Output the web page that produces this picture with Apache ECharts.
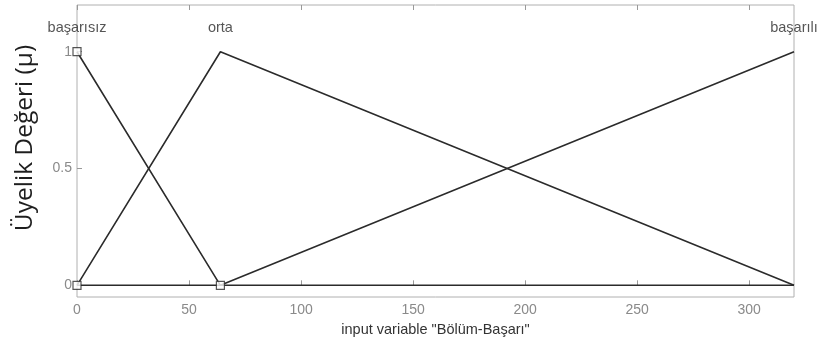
<!DOCTYPE html>
<html>
<head>
<meta charset="utf-8">
<script src="https://cdn.jsdelivr.net/npm/echarts@6/dist/echarts.min.js"></script>
<style>html,body{margin:0;padding:0;background:#fff}#c{width:819px;height:345px}</style>
</head>
<body>
<div id="c"></div>
<script>
// Membership functions (x, μ)
const basarisiz = [[0, 1], [64, 0], [320, 0]];
const orta = [[0, 0], [64, 1], [320, 0]];
const basarili = [[0, 0], [64, 0], [320, 1]];
const mfNames = ['başarısız', 'orta', 'başarılı'];
const mfPeaks = [0, 64, 320];
const markerPoints = [[0, 1], [0, 0], [64, 0]];
const xTicks = [0, 50, 100, 150, 200, 250, 300];
const yTicks = [0, 0.5, 1];

const chart = echarts.init(document.getElementById('c'));
const lineStyle = { color: '#2b2b2b', width: 1.6 };
const mkLine = (d) => ({ type: 'line', data: d, symbol: 'none', lineStyle, silent: true, z: 2 });
const tickFont = { color: '#8a8a8a', fontSize: 14, fontFamily: 'Liberation Sans' };

chart.setOption({
  animation: false,
  grid: { left: 77, right: 25, top: 5, bottom: 48, show: true, borderColor: '#b0b0b0', borderWidth: 1, backgroundColor: '#fff' },
  graphic: [{
    type: 'text', x: 25, y: 138, rotation: Math.PI / 2,
    style: { text: 'Üyelik Değeri (μ)', fill: '#1e1e1e', fontSize: 24.5, fontFamily: 'Open Sans', align: 'center', verticalAlign: 'middle' }
  }],
  xAxis: [{
    type: 'value', min: 0, max: 320, position: 'bottom',
    axisLine: { show: false }, splitLine: { show: false },
    axisTick: { inside: true, length: 5, customValues: xTicks, lineStyle: { color: '#999' } },
    axisLabel: Object.assign({ customValues: xTicks, margin: 6 }, tickFont),
    name: 'input variable "Bölüm-Başarı"', nameLocation: 'middle', nameGap: 25,
    nameTextStyle: { color: '#333', fontSize: 14.5, fontFamily: 'Liberation Sans' }
  }, {
    type: 'value', min: 0, max: 320, position: 'top',
    axisLine: { show: false }, splitLine: { show: false },
    axisTick: { inside: true, length: 5, customValues: xTicks, lineStyle: { color: '#999' } },
    axisLabel: { show: false }
  }],
  yAxis: [{
    type: 'value', min: -0.05, max: 1.2,
    axisLine: { show: false }, splitLine: { show: false },
    axisTick: { inside: true, length: 5, customValues: yTicks, lineStyle: { color: '#999' } },
    axisLabel: Object.assign({ customValues: yTicks, margin: 5 }, tickFont)
  }],
  series: [
    mkLine(basarisiz), mkLine(orta), mkLine(basarili),
    {
      type: 'scatter', data: markerPoints, symbol: 'rect', symbolSize: 8, silent: true, z: 3,
      itemStyle: { color: '#fff', borderColor: '#2b2b2b', borderWidth: 1.2 }
    },
    {
      type: 'scatter', symbol: 'circle', symbolSize: 1, silent: true, clip: false, z: 4,
      itemStyle: { color: 'rgba(0,0,0,0)' },
      data: mfNames.map((n, i) => ({ value: [mfPeaks[i], 1.1], name: n })),
      label: { show: true, position: 'inside', formatter: p => p.name, color: '#2a2a2a', fontSize: 14.5, fontFamily: 'Liberation Sans' }
    }
  ]
});
</script>
</body>
</html>
